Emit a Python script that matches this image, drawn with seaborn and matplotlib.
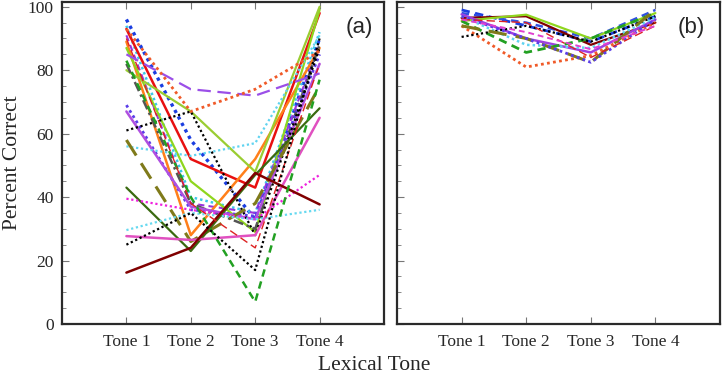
import matplotlib
matplotlib.use("Agg")
import matplotlib.pyplot as plt
from matplotlib.ticker import MultipleLocator
import seaborn as sns
import pandas as pd

##############################################
### DATA #####################################
##############################################

tones = ["Tone 1", "Tone 2", "Tone 3", "Tone 4"]
tone_pos = [1, 2, 3, 4]

# panel (a): percent correct per listener, tone 1..4
a_s01 = [96, 58, 33, 90]
a_s02 = [94, 40, 35, 92]
a_s03 = [93, 52, 43, 98]
a_s04 = [91, 38, 35, 88]
a_s05 = [89, 28, 52, 87]
a_s06 = [87, 45, 29, 99]
a_s07 = [80, 67, 48, 100]
a_s08 = [82, 38, 30, 88]
a_s09 = [69, 36, 34, 85]
a_s10 = [67, 37, 33, 82]
a_s11 = [61, 67, 28, 87]
a_s12 = [56, 53, 57, 91]
a_s13 = [58, 26, 38, 75]
a_s14 = [43, 23, 47, 68]
a_s15 = [39.5, 36, 33, 47]
a_s16 = [29.6, 35, 33, 36]
a_s17 = [27.7, 26.5, 28, 65]
a_s18 = [16.2, 24, 47.6, 37.7]
a_s19 = [83, 40, 7, 77]
a_s20 = [90, 38, 24, 82]
a_s21 = [25, 35, 17, 90]
a_s22 = [85, 74, 72, 79]
a_s23 = [93, 67, 74, 86]

# panel (b)
b_s01 = [99, 94, 89, 97]
b_s02 = [98, 95, 90, 99]
b_s03 = [96.5, 97, 88, 95]
b_s04 = [95.5, 97.5, 90, 98]
b_s05 = [97.6, 90, 85.6, 96]
b_s06 = [97, 88, 87, 96.6]
b_s07 = [95.5, 85.6, 90, 98]
b_s08 = [94, 81, 84.6, 95]
b_s09 = [90.5, 94, 89, 97]
b_s10 = [94, 90, 82.5, 99]
b_s11 = [97, 90, 82.5, 96]
b_s12 = [96, 95, 84, 94]
b_s13 = [96, 92, 86.6, 94]

panel_a = [a_s01, a_s02, a_s03, a_s04, a_s05, a_s06, a_s07, a_s08, a_s09, a_s10, a_s11, a_s12,
           a_s13, a_s14, a_s15, a_s16, a_s17, a_s18, a_s19, a_s20, a_s21, a_s22, a_s23]
panel_b = [b_s01, b_s02, b_s03, b_s04, b_s05, b_s06, b_s07, b_s08, b_s09, b_s10, b_s11, b_s12, b_s13]

##############################################
### STYLES ###################################
##############################################

DOT = (0, (1, 1.2))
DASH = (0, (3, 2))
LDASH = (0, (6, 3))
DDOT = (0, (4, 1.5, 1, 1.5))

# (colour, linestyle, linewidth) for each line
styles_a = [
    ("#1a3de0", DOT, 2.4), ("#3cc8e8", DOT, 1.8), ("#e81010", "-", 1.8), ("#9933dd", DASH, 1.5),
    ("#ff7f1a", "-", 1.8), ("#8fd61e", "-", 1.6), ("#9acd32", "-", 1.6), ("#555555", DDOT, 1.8),
    ("#5a3de8", DOT, 2.0), ("#b04fe0", "-", 1.8), ("black", DOT, 1.6), ("#5fd3f0", DOT, 1.6),
    ("#7f7a1a", LDASH, 2.2), ("#3a6a10", "-", 1.6), ("#ee22dd", DOT, 1.6), ("#66d9f0", DOT, 1.6),
    ("#e050c0", "-", 1.8), ("#800000", "-", 1.8), ("#22a022", DASH, 1.8), ("#dd2222", LDASH, 1.0),
    ("black", DOT, 1.6), ("#9b4fe8", LDASH, 1.6), ("#f05a28", DOT, 2.0),
]
styles_b = [
    ("#1a3de0", DASH, 2.0), ("#3050e0", DASH, 1.8), ("#800000", "-", 1.6), ("#8fd61e", "-", 1.6),
    ("#a040e0", "-", 1.8), ("#5fd3f0", DOT, 1.8), ("#22a022", DASH, 2.0), ("#f05a28", DOT, 2.0),
    ("black", DOT, 1.6), ("#7f7a1a", LDASH, 2.2), ("#5a3de8", DOT, 2.0), ("#dd2222", LDASH, 1.0),
    ("#e040d0", DASH, 1.4),
]

##############################################
### PLOT #####################################
##############################################

sns.set_style("ticks")
plt.rcParams['font.family'] = ['Liberation Serif', 'DejaVu Serif']

fig = plt.figure(figsize=(7.22, 3.76), dpi=100)
ax_a = fig.add_axes([62/722, 1 - 324/376, 322/722, 322/376])
ax_b = fig.add_axes([397/722, 1 - 324/376, 323/722, 322/376])

for ax, data, styles, tag, tx in [(ax_a, panel_a, styles_a, "(a)", 0.922),
                                  (ax_b, panel_b, styles_b, "(b)", 0.912)]:
    for vals, (col, ls, lw) in zip(data, styles):
        df = pd.DataFrame({"tone": tone_pos, "pc": vals})
        sns.lineplot(data=df, x="tone", y="pc", color=col, linestyle=ls, linewidth=lw, ax=ax)

    ax.set_xlim(0, 5)
    ax.set_ylim(0, 101.5)
    ax.set_xticks(tone_pos)
    ax.set_xticklabels(tones)
    ax.yaxis.set_major_locator(MultipleLocator(20))
    ax.yaxis.set_minor_locator(MultipleLocator(5))
    ax.tick_params(axis="x", which="both", direction="in", top=True, bottom=True,
                   length=5, width=0.8, color="#777777", labelsize=12.5, pad=7)
    ax.tick_params(axis="y", which="major", direction="in", left=True, right=False,
                   length=5, width=0.8, color="#777777", labelsize=12.5, pad=6)
    ax.tick_params(axis="y", which="minor", direction="in", left=True, right=False,
                   length=3, width=0.6, color="#777777")
    for sp in ax.spines.values():
        sp.set_linewidth(1.6)
        sp.set_color("#2a2a2a")
    ax.set_xlabel("")
    ax.set_ylabel("")
    ax.text(tx, 0.922, tag, transform=ax.transAxes, ha="center", va="center",
            fontsize=16, family=["Liberation Sans", "DejaVu Sans"])

ax_b.tick_params(axis="y", labelleft=False)
ax_a.set_ylabel("Percent Correct", fontsize=15.5, labelpad=4)
fig.text(374/722, 0.027, "Lexical Tone", ha="center", va="center", fontsize=15.5)

fig.savefig("out.png", dpi=100)
